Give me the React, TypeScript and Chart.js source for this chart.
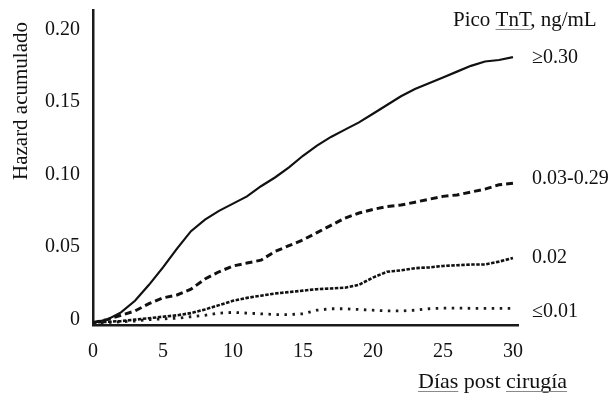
import React, { useEffect, useRef } from "react";
import { Chart, registerables } from "chart.js";

Chart.register(...registerables);

const DAYS = [0, 1, 2, 3, 4, 5, 6, 7, 8, 9, 10, 11, 12, 13, 14, 15, 16, 17, 18, 19, 20, 21, 22, 23, 24, 25, 26, 27, 28, 29, 30];
const TNT_HIGH = [0, 0.002, 0.007, 0.015, 0.026, 0.038, 0.051, 0.063, 0.071, 0.077, 0.082, 0.087, 0.094, 0.1, 0.107, 0.115, 0.122, 0.128, 0.133, 0.138, 0.144, 0.15, 0.156, 0.161, 0.165, 0.169, 0.173, 0.177, 0.18, 0.181, 0.183];
const TNT_MID = [0, 0.002, 0.005, 0.008, 0.013, 0.017, 0.019, 0.023, 0.03, 0.035, 0.039, 0.041, 0.043, 0.049, 0.053, 0.057, 0.062, 0.067, 0.072, 0.0755, 0.078, 0.08, 0.081, 0.083, 0.085, 0.087, 0.088, 0.09, 0.092, 0.095, 0.096];
const TNT_LOW = [0, 0.0005, 0.001, 0.002, 0.003, 0.004, 0.005, 0.0065, 0.009, 0.012, 0.015, 0.017, 0.0185, 0.02, 0.021, 0.022, 0.023, 0.0235, 0.024, 0.026, 0.031, 0.035, 0.036, 0.0375, 0.038, 0.039, 0.0395, 0.04, 0.04, 0.042, 0.0445];
const TNT_MIN = [0, 0, 0.0005, 0.001, 0.002, 0.0025, 0.003, 0.004, 0.005, 0.0065, 0.007, 0.0065, 0.006, 0.0055, 0.0055, 0.006, 0.0085, 0.0095, 0.0095, 0.009, 0.0085, 0.008, 0.008, 0.0085, 0.0095, 0.01, 0.01, 0.0098, 0.0098, 0.0098, 0.0098];

const SERIES_LABELS = ["\u22650.30", "0.03-0.29", "0.02", "\u22640.01"];
const X_TICKS = [0, 5, 10, 15, 20, 25, 30];
const Y_TICKS = [0, 0.05, 0.1, 0.15, 0.2];
const Y_TICK_LABELS = ["0", "0.05", "0.10", "0.15", "0.20"];
const LEGEND_TITLE = "Pico TnT, ng/mL";
const X_TITLE = "D\u00edas post cirug\u00eda";
const Y_TITLE = "Hazard acumulado";

const FONT = '"Liberation Serif", "Times New Roman", serif';
const INK = "#111111";

const textPlugin = {
  id: "textPlugin",
  afterDraw(chart: any) {
    const ctx = chart.ctx as CanvasRenderingContext2D;
    ctx.save();
    ctx.fillStyle = INK;
    ctx.textBaseline = "alphabetic";

    // y title
    ctx.save();
    ctx.font = `21px ${FONT}`;
    ctx.translate(27, 101);
    ctx.rotate(-Math.PI / 2);
    ctx.textAlign = "center";
    ctx.fillText(Y_TITLE, 0, 0);
    ctx.restore();

    // x title with underlines
    ctx.font = `22px ${FONT}`;
    ctx.textAlign = "left";
    const xtX = 418;
    const xtY = 388;
    ctx.fillText(X_TITLE, xtX, xtY);
    ctx.strokeStyle = "#8a8a8a";
    ctx.lineWidth = 1;
    const w1 = ctx.measureText("D\u00edas").width;
    const w2 = ctx.measureText("D\u00edas post ").width;
    const w3 = ctx.measureText(X_TITLE).width;
    ctx.beginPath();
    ctx.moveTo(xtX, xtY + 3.5);
    ctx.lineTo(xtX + w1, xtY + 3.5);
    ctx.moveTo(xtX + w2, xtY + 3.5);
    ctx.lineTo(xtX + w3, xtY + 3.5);
    ctx.stroke();

    // legend title
    ctx.font = `21px ${FONT}`;
    const ltX = 453;
    const ltY = 26;
    ctx.fillText(LEGEND_TITLE, ltX, ltY);
    const a = ctx.measureText("Pico ").width;
    const b = ctx.measureText("Pico TnT").width;
    ctx.beginPath();
    ctx.moveTo(ltX + a, ltY + 3.5);
    ctx.lineTo(ltX + b, ltY + 3.5);
    ctx.stroke();

    // series labels
    const ys = [58, 179, 258, 312];
    ctx.textBaseline = "middle";
    ctx.font = `20px ${FONT}`;
    SERIES_LABELS.forEach((t, i) => {
      ctx.fillText(t, 532, ys[i]);
    });
    ctx.restore();
  },
};

const zeroPad = (s: any) => {
  s.paddingTop = 0;
  s.paddingBottom = 0;
  s.paddingLeft = 0;
  s.paddingRight = 0;
};

export default function App() {
  const ref = useRef<HTMLCanvasElement | null>(null);

  useEffect(() => {
    document.body.style.margin = "0";
    document.body.style.background = "#ffffff";
    const canvas = ref.current;
    if (!canvas) return;
    const mk = (vals: number[]) => DAYS.map((d, i) => ({ x: d, y: vals[i] }));
    const chart = new Chart(canvas, {
      type: "line",
      data: {
        datasets: [
          { label: SERIES_LABELS[0], data: mk(TNT_HIGH), borderColor: "#111", borderWidth: 2.2, pointRadius: 0, tension: 0 },
          { label: SERIES_LABELS[1], data: mk(TNT_MID), borderColor: "#111", borderWidth: 3, borderDash: [7, 4], pointRadius: 0, tension: 0 },
          { label: SERIES_LABELS[2], data: mk(TNT_LOW), borderColor: "#111", borderWidth: 2.6, borderDash: [3.5, 1.5], pointRadius: 0, tension: 0 },
          { label: SERIES_LABELS[3], data: mk(TNT_MIN), borderColor: "#1a1a1a", borderWidth: 2.8, borderDash: [2.5, 5.5], pointRadius: 0, tension: 0 },
        ],
      },
      options: {
        animation: false,
        responsive: false,
        maintainAspectRatio: false,
        layout: { padding: { top: 10, right: 90, left: 0, bottom: 0 } },
        plugins: { legend: { display: false }, tooltip: { enabled: false } },
        scales: {
          x: {
            type: "linear",
            min: 0,
            max: 30.36,
            afterBuildTicks: (s: any) => {
              s.ticks = X_TICKS.map((v) => ({ value: v }));
            },
            afterFit: (s: any) => {
              s.height = 69;
              zeroPad(s);
            },
            grid: { display: false, drawTicks: false },
            border: { display: true, color: "#1a1a1a", width: 2.5 },
            ticks: {
              padding: 15,
              color: INK,
              autoSkip: false,
              maxRotation: 0,
              font: { family: FONT, size: 20 },
              callback: (v: any) => String(v),
            },
          },
          y: {
            type: "linear",
            min: -0.0017,
            max: 0.2155,
            afterBuildTicks: (s: any) => {
              s.ticks = Y_TICKS.map((v) => ({ value: v }));
            },
            afterFit: (s: any) => {
              s.width = 93;
              zeroPad(s);
            },
            grid: { display: false, drawTicks: false },
            border: { display: true, color: "#1a1a1a", width: 2.5 },
            ticks: {
              padding: 13,
              labelOffset: -3,
              color: INK,
              autoSkip: false,
              font: { family: FONT, size: 20 },
              callback: (v: any) => {
                const i = Y_TICKS.findIndex((t) => Math.abs(t - v) < 1e-9);
                return i >= 0 ? Y_TICK_LABELS[i] : "";
              },
            },
          },
        },
      },
      plugins: [textPlugin],
    });
    return () => chart.destroy();
  }, []);

  return <canvas ref={ref} width={608} height={394} style={{ display: "block" }} />;
}
